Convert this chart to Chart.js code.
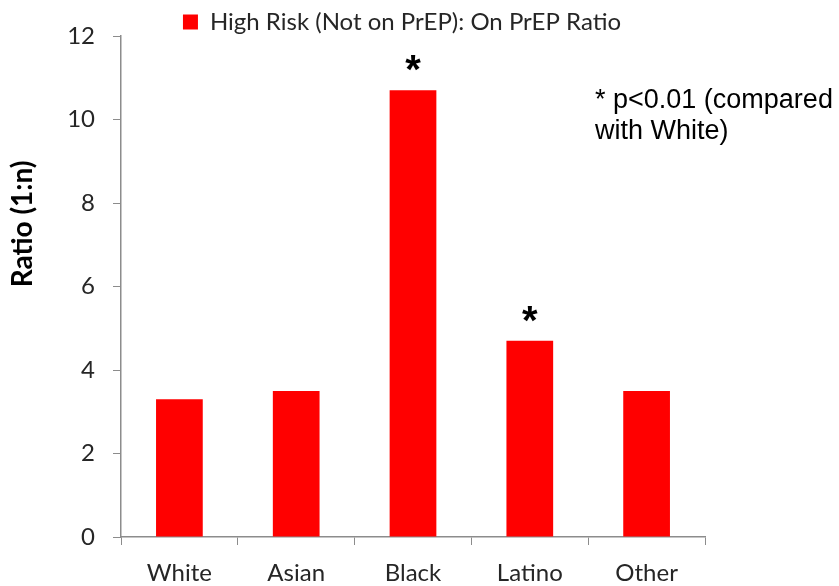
<!DOCTYPE html>
<html>
<head>
<meta charset="utf-8">
<script src="https://cdn.jsdelivr.net/npm/chart.js@4"></script>
<style>
  html, body { margin: 0; padding: 0; background: #fff; }
  #wrap { width: 839px; height: 586px; }
</style>
</head>
<body>
<div id="wrap"><canvas id="chart"></canvas></div>
<script>
// data
const categories = ['White', 'Asian', 'Black', 'Latino', 'Other'];
const ratios = [3.3, 3.5, 10.7, 4.7, 3.5];
const significant = [false, false, true, true, false];
const seriesLabel = 'High Risk (Not on PrEP): On PrEP Ratio';
const yTitle = 'Ratio (1:n)';
const yTicks = [0, 2, 4, 6, 8, 10, 12];
const footnote = ['* p<0.01 (compared', 'with White)'];

const axisGray = '#8c8c8c';
const textDark = '#262626';

// legend sits closer to the plot than chart.js would put it
const tightLegend = {
  id: 'tightLegend',
  beforeLayout(chart) {
    const lg = chart.legend;
    if (lg && !lg._tight) {
      const fit = lg.fit.bind(lg);
      lg.fit = function() { fit(); this.height -= 8; };
      lg._tight = true;
    }
  }
};

// asterisks above significant bars, y title and footnote
const annotations = {
  id: 'annotations',
  afterDatasetsDraw(chart) {
    const ctx = chart.ctx;
    const meta = chart.getDatasetMeta(0);
    const y = chart.scales.y;
    ctx.save();
    ctx.fillStyle = '#000';
    ctx.font = 'bold 40px "Liberation Sans", Arial, sans-serif';
    ctx.textAlign = 'center';
    ctx.textBaseline = 'alphabetic';
    meta.data.forEach((bar, i) => {
      if (significant[i]) ctx.fillText('*', bar.x, bar.y - 7);
    });

    ctx.font = '27px "Liberation Sans", Arial, sans-serif';
    ctx.textAlign = 'left';
    ctx.textBaseline = 'middle';
    footnote.forEach((line, i) => {
      ctx.fillText(line, chart.chartArea.right - 110, y.getPixelForValue(10.45) + i * 31);
    });

    ctx.translate(23, y.getPixelForValue(7.5));
    ctx.rotate(-Math.PI / 2);
    ctx.textAlign = 'center';
    ctx.font = 'bold 28px Lato, sans-serif';
    ctx.fillText(yTitle, 0, 0);
    ctx.restore();
  }
};

new Chart(document.getElementById('chart'), {
  type: 'bar',
  data: {
    labels: categories,
    datasets: [{
      label: seriesLabel,
      data: ratios,
      backgroundColor: '#ff0000',
      borderWidth: 0,
      categoryPercentage: 1,
      barPercentage: 0.4
    }]
  },
  options: {
    responsive: true,
    maintainAspectRatio: false,
    animation: false,
    layout: { padding: { left: 0, right: 35, top: 0, bottom: 0 } },
    plugins: {
      tooltip: { enabled: false },
      legend: {
        position: 'top',
        labels: {
          boxWidth: 15,
          boxHeight: 15,
          padding: 10,
          color: textDark,
          font: { family: 'Lato', size: 24 }
        }
      }
    },
    scales: {
      x: {
        grid: { offset: true, drawOnChartArea: false, tickLength: 8, color: axisGray },
        border: { color: axisGray, width: 1.5 },
        ticks: { color: textDark, padding: 14, font: { family: 'Lato', size: 24 } },
        afterFit(s) { s.height = 49; }
      },
      y: {
        min: 0,
        max: 12,
        afterBuildTicks(s) { s.ticks = yTicks.map(v => ({ value: v })); },
        grid: { drawOnChartArea: false, tickLength: 8, color: axisGray },
        border: { color: axisGray, width: 1.5 },
        ticks: { color: textDark, padding: 18, font: { family: 'Lato', size: 24 } },
        afterFit(s) { s.width = 121; }
      },
      yR: {
        position: 'right',
        display: true,
        grid: { display: false },
        border: { display: false },
        ticks: { display: false },
        afterFit(s) { s.width = 99; }
      }
    }
  },
  plugins: [tightLegend, annotations]
});
</script>
</body>
</html>
